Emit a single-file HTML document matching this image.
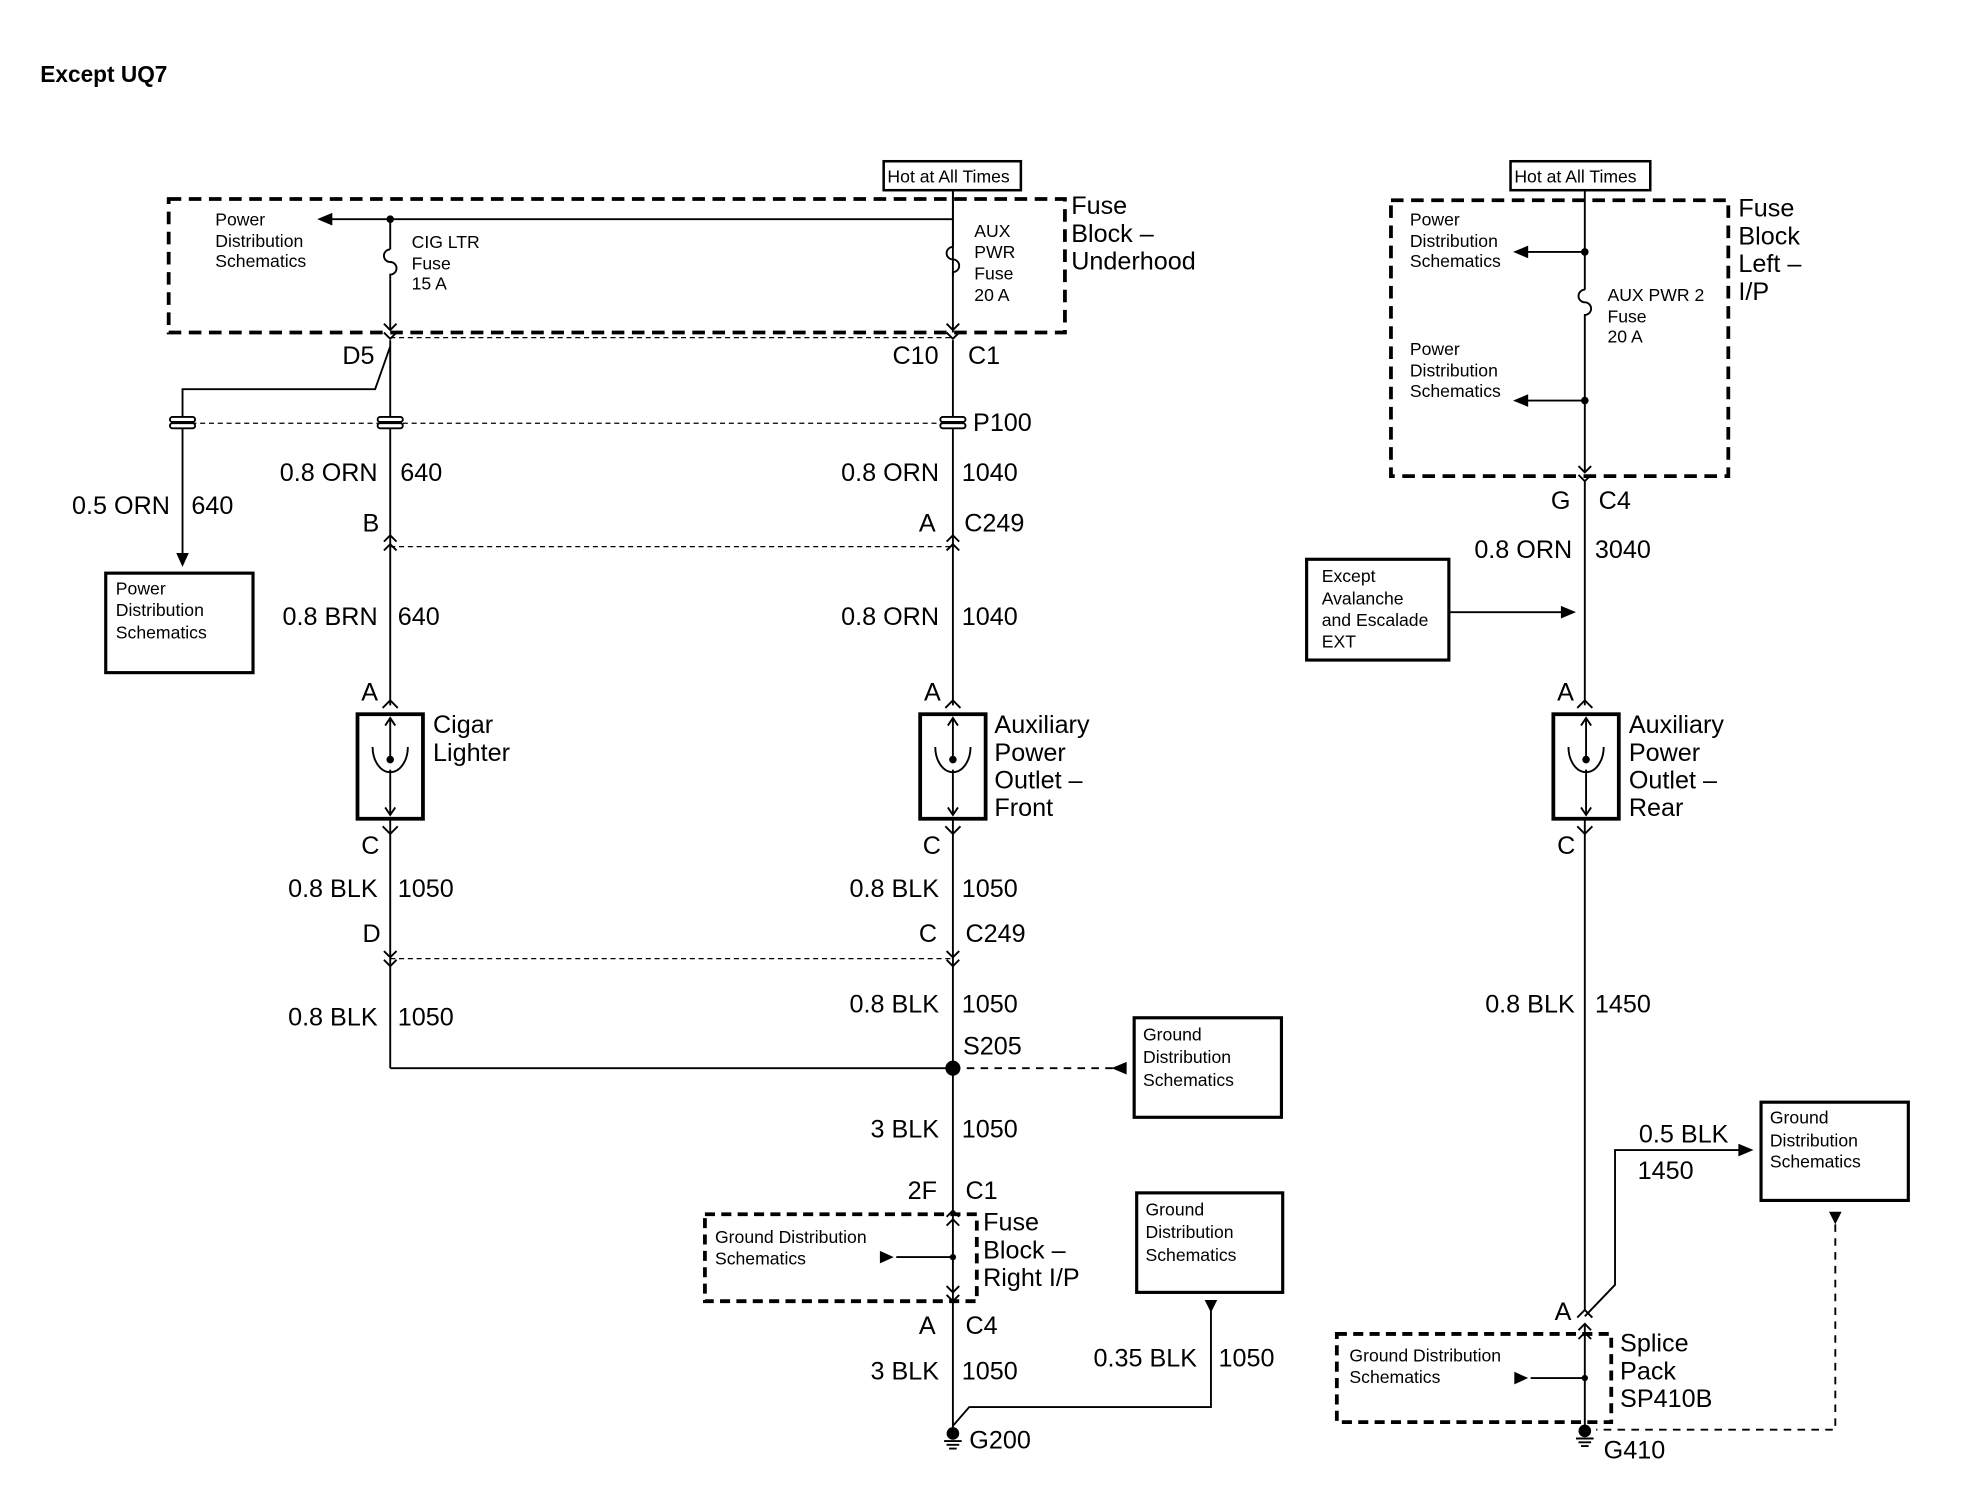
<!DOCTYPE html>
<html><head><meta charset="utf-8"><style>
html,body{margin:0;padding:0;background:#fff;}
svg{display:block;}
text{font-family:"Liberation Sans",sans-serif;fill:#000;}
.b{font-size:20px;}
.s{font-size:14px;}
</style></head><body>
<svg width="1970" height="1504" viewBox="0 0 1565 1194" preserveAspectRatio="none" xmlns="http://www.w3.org/2000/svg">
<defs>
<path id="chD" d="M-5,-5 L0,0 L5,-5 M-5,2 L0,7 L5,2" fill="none" stroke="#000" stroke-width="1.5"/>
<path id="chU" d="M-5,5 L0,0 L5,5 M-5,-2 L0,-7 L5,-2" fill="none" stroke="#000" stroke-width="1.5"/>
<g id="sock"><rect x="-26" y="0" width="52" height="83" fill="none" stroke="#000" stroke-width="3"/>
<path d="M0,4 V36 M-4,9 L0,3 L4,9 M0,44 V79 M-4,74 L0,80 L4,74 M-14,26 A14,20 0 0 0 14,26" fill="none" stroke="#000" stroke-width="1.5"/><circle cx="0" cy="36" r="3"/></g>
<g id="pconn"><rect x="-10" y="-4" width="20" height="4" rx="2" fill="#fff" stroke="#000" stroke-width="1.5"/><rect x="-10" y="1" width="20" height="4" rx="2" fill="#fff" stroke="#000" stroke-width="1.5"/></g>
<g id="gnd"><circle cx="0" cy="0" r="5"/><path d="M-7,6 H7 M-5,9 H5 M-3,12 H3" stroke="#000" stroke-width="1.5"/></g>
</defs>
<g fill="none" stroke="#000" stroke-width="1.5">
<rect x="134" y="158" width="712" height="106" stroke-width="3" stroke-dasharray="10,6"/>
<rect x="702" y="128" width="109" height="23" stroke-width="2"/>
<line x1="757" y1="151" x2="757" y2="264"/>
<line x1="262" y1="174" x2="757" y2="174"/>
<line x1="310" y1="174" x2="310" y2="198"/>
<path d="M310,198 a4,4 0 0 0 0,10 a4,4 0 0 1 0,10 v4"/>
<line x1="310" y1="222" x2="310" y2="262"/>
<path d="M757,196 a4,4 0 0 0 0,10 a4,4 0 0 1 0,10 v4"/>
<line x1="757" y1="151" x2="757" y2="196"/>
<line x1="310" y1="268" x2="757" y2="268" stroke-width="1" stroke-dasharray="4,3"/>
<path d="M310,275 L298,309 H145 V440"/>
<line x1="310" y1="270" x2="310" y2="560"/>
<line x1="757" y1="270" x2="757" y2="560"/>
<line x1="145" y1="336" x2="757" y2="336" stroke-width="1" stroke-dasharray="4,3"/>
<line x1="310" y1="434" x2="757" y2="434" stroke-width="1" stroke-dasharray="4,3"/>
<rect x="84" y="455" width="117" height="79" stroke-width="2.5"/>
<line x1="310" y1="650" x2="310" y2="848"/>
<line x1="757" y1="650" x2="757" y2="1140"/>
<line x1="310" y1="761" x2="757" y2="761" stroke-width="1" stroke-dasharray="4,3"/>
<line x1="310" y1="848" x2="757" y2="848"/>
<line x1="757" y1="848" x2="885" y2="848" stroke-dasharray="6,5"/>
<rect x="901" y="808" width="117" height="79" stroke-width="2.5"/>
<rect x="560" y="964" width="216" height="69" stroke-width="3" stroke-dasharray="8,5"/>
<line x1="712" y1="998" x2="757" y2="998"/>
<rect x="903" y="947" width="116" height="79" stroke-width="2.5"/>
<path d="M962,1040 V1117 H770 L757,1132"/>
<rect x="1105" y="159" width="268" height="219" stroke-width="3" stroke-dasharray="10,6"/>
<rect x="1200" y="128" width="111" height="23" stroke-width="2"/>
<line x1="1259" y1="151" x2="1259" y2="230"/>
<path d="M1259,230 a4,4 0 0 0 0,10 a4,4 0 0 1 0,10 v4"/>
<line x1="1259" y1="254" x2="1259" y2="375"/>
<line x1="1212" y1="200" x2="1259" y2="200"/>
<line x1="1212" y1="318" x2="1259" y2="318"/>
<line x1="1259" y1="382" x2="1259" y2="560"/>
<rect x="1038" y="444" width="113" height="80" stroke-width="2.5"/>
<line x1="1151" y1="486" x2="1242" y2="486"/>
<line x1="1259" y1="650" x2="1259" y2="1040"/>
<path d="M1259,1045 L1283,1020 V913 H1383"/>
<rect x="1399" y="875" width="117" height="78" stroke-width="2.5"/>
<path d="M1458,972 V1135 H1268" stroke-dasharray="6,5"/>
<rect x="1062" y="1059" width="218" height="70" stroke-width="3" stroke-dasharray="8,5"/>
<line x1="1216" y1="1094" x2="1259" y2="1094"/>
<line x1="1259" y1="1052" x2="1259" y2="1136"/>
</g>
<g fill="#000">
<path d="M252,174 L264,169 L264,179Z"/>
<path d="M145,450 L140,439 L150,439Z"/>
<path d="M883,848 L895,843 L895,853Z"/>
<path d="M710,998 L699,993 L699,1003Z"/>
<path d="M962,1042 L957,1032 L967,1032Z"/>
<path d="M1202,200 L1214,195 L1214,205Z"/>
<path d="M1202,318 L1214,313 L1214,323Z"/>
<path d="M1252,486 L1240,481 L1240,491Z"/>
<path d="M1393,913 L1381,908 L1381,918Z"/>
<path d="M1458,972 L1453,962 L1463,962Z"/>
<path d="M1214,1094 L1203,1089 L1203,1099Z"/>
<circle cx="310" cy="174" r="3"/><circle cx="1259" cy="200" r="3"/><circle cx="1259" cy="318" r="3"/>
<circle cx="757" cy="998" r="2.5"/><circle cx="1259" cy="1094" r="2.5"/>
<circle cx="757" cy="848" r="6"/>
</g>
<use href="#chD" x="310" y="262"/><use href="#chD" x="757" y="262"/>
<use href="#chD" x="310" y="760"/><use href="#chD" x="757" y="760"/>
<use href="#chD" x="1259" y="375"/>
<use href="#chU" x="310" y="432"/><use href="#chU" x="757" y="432"/>
<use href="#chU" x="757" y="968"/>
<use href="#chD" x="757" y="1026"/>
<use href="#chU" x="1259" y="1058"/>
<path d="M304,562 L310,556 L316,562 M304,656 L310,662 L316,656 M751,562 L757,556 L763,562 M751,656 L757,662 L763,656 M1253,562 L1259,556 L1265,562 M1253,656 L1259,662 L1265,656 M1253,1046 L1259,1040 L1265,1046" fill="none" stroke="#000" stroke-width="1.5"/>
<use href="#sock" x="310" y="567"/><use href="#sock" x="757" y="567"/><use href="#sock" x="1260" y="567"/>
<use href="#pconn" x="145" y="335"/><use href="#pconn" x="310" y="335"/><use href="#pconn" x="757" y="335"/>
<use href="#gnd" x="757" y="1138"/><use href="#gnd" x="1259" y="1136"/>
<text x="32" y="65" style="font-size:18px;font-weight:bold">Except UQ7</text>
<text class="s" x="705" y="145">Hot at All Times</text>
<text class="s" x="1203" y="145">Hot at All Times</text>
<text class="b" x="851" y="170">Fuse</text><text class="b" x="851" y="192">Block –</text><text class="b" x="851" y="214">Underhood</text>
<text class="s" x="171" y="179">Power</text><text class="s" x="171" y="196">Distribution</text><text class="s" x="171" y="212">Schematics</text>
<text class="s" x="327" y="197">CIG LTR</text><text class="s" x="327" y="214">Fuse</text><text class="s" x="327" y="230">15 A</text>
<text class="s" x="774" y="188">AUX</text><text class="s" x="774" y="205">PWR</text><text class="s" x="774" y="222">Fuse</text><text class="s" x="774" y="239">20 A</text>
<text class="b" x="272" y="289">D5</text><text class="b" x="709" y="289">C10</text><text class="b" x="769" y="289">C1</text>
<text class="b" x="773" y="342">P100</text>
<g class="b" style="font-size:20px">
<text x="300" y="382" text-anchor="end">0.8 ORN</text><text x="318" y="382">640</text>
<text x="746" y="382" text-anchor="end">0.8 ORN</text><text x="764" y="382">1040</text>
<text x="135" y="408" text-anchor="end">0.5 ORN</text><text x="152" y="408">640</text>
<text x="288" y="422">B</text><text x="730" y="422">A</text><text x="766" y="422">C249</text>
<text x="300" y="496" text-anchor="end">0.8 BRN</text><text x="316" y="496">640</text>
<text x="746" y="496" text-anchor="end">0.8 ORN</text><text x="764" y="496">1040</text>
<text x="287" y="556">A</text><text x="734" y="556">A</text>
<text x="344" y="582">Cigar</text><text x="344" y="604">Lighter</text>
<text x="790" y="582">Auxiliary</text><text x="790" y="604">Power</text><text x="790" y="626">Outlet –</text><text x="790" y="648">Front</text>
<text x="287" y="678">C</text><text x="733" y="678">C</text>
<text x="300" y="712" text-anchor="end">0.8 BLK</text><text x="316" y="712">1050</text>
<text x="746" y="712" text-anchor="end">0.8 BLK</text><text x="764" y="712">1050</text>
<text x="288" y="748">D</text><text x="730" y="748">C</text><text x="767" y="748">C249</text>
<text x="300" y="814" text-anchor="end">0.8 BLK</text><text x="316" y="814">1050</text>
<text x="746" y="804" text-anchor="end">0.8 BLK</text><text x="764" y="804">1050</text>
<text x="765" y="837">S205</text>
<text x="746" y="903" text-anchor="end">3 BLK</text><text x="764" y="903">1050</text>
<text x="721" y="952">2F</text><text x="767" y="952">C1</text>
<text x="781" y="977">Fuse</text><text x="781" y="999">Block –</text><text x="781" y="1021">Right I/P</text>
<text x="730" y="1059">A</text><text x="767" y="1059">C4</text>
<text x="746" y="1095" text-anchor="end">3 BLK</text><text x="764" y="1095">1050</text>
<text x="951" y="1085" text-anchor="end">0.35 BLK</text><text x="968" y="1085">1050</text>
<text x="770" y="1150">G200</text>
<text x="1381" y="172">Fuse</text><text x="1381" y="194">Block</text><text x="1381" y="216">Left –</text><text x="1381" y="238">I/P</text>
<text x="1232" y="404">G</text><text x="1270" y="404">C4</text>
<text x="1249" y="443" text-anchor="end">0.8 ORN</text><text x="1267" y="443">3040</text>
<text x="1237" y="556">A</text>
<text x="1294" y="582">Auxiliary</text><text x="1294" y="604">Power</text><text x="1294" y="626">Outlet –</text><text x="1294" y="648">Rear</text>
<text x="1237" y="678">C</text>
<text x="1251" y="804" text-anchor="end">0.8 BLK</text><text x="1267" y="804">1450</text>
<text x="1302" y="907">0.5 BLK</text><text x="1301" y="936">1450</text>
<text x="1235" y="1048">A</text>
<text x="1287" y="1073">Splice</text><text x="1287" y="1095">Pack</text><text x="1287" y="1117">SP410B</text>
<text x="1274" y="1158">G410</text>
</g>
<g class="s">
<text x="92" y="472">Power</text><text x="92" y="489">Distribution</text><text x="92" y="507">Schematics</text>
<text x="908" y="826">Ground</text><text x="908" y="844">Distribution</text><text x="908" y="862">Schematics</text>
<text x="568" y="987">Ground Distribution</text><text x="568" y="1004">Schematics</text>
<text x="910" y="965">Ground</text><text x="910" y="983">Distribution</text><text x="910" y="1001">Schematics</text>
<text x="1120" y="179">Power</text><text x="1120" y="196">Distribution</text><text x="1120" y="212">Schematics</text>
<text x="1120" y="282">Power</text><text x="1120" y="299">Distribution</text><text x="1120" y="315">Schematics</text>
<text x="1277" y="239">AUX PWR 2</text><text x="1277" y="256">Fuse</text><text x="1277" y="272">20 A</text>
<text x="1050" y="462">Except</text><text x="1050" y="480">Avalanche</text><text x="1050" y="497">and Escalade</text><text x="1050" y="514">EXT</text>
<text x="1406" y="892">Ground</text><text x="1406" y="910">Distribution</text><text x="1406" y="927">Schematics</text>
<text x="1072" y="1081">Ground Distribution</text><text x="1072" y="1098">Schematics</text>
</g>
</svg>
</body></html>
